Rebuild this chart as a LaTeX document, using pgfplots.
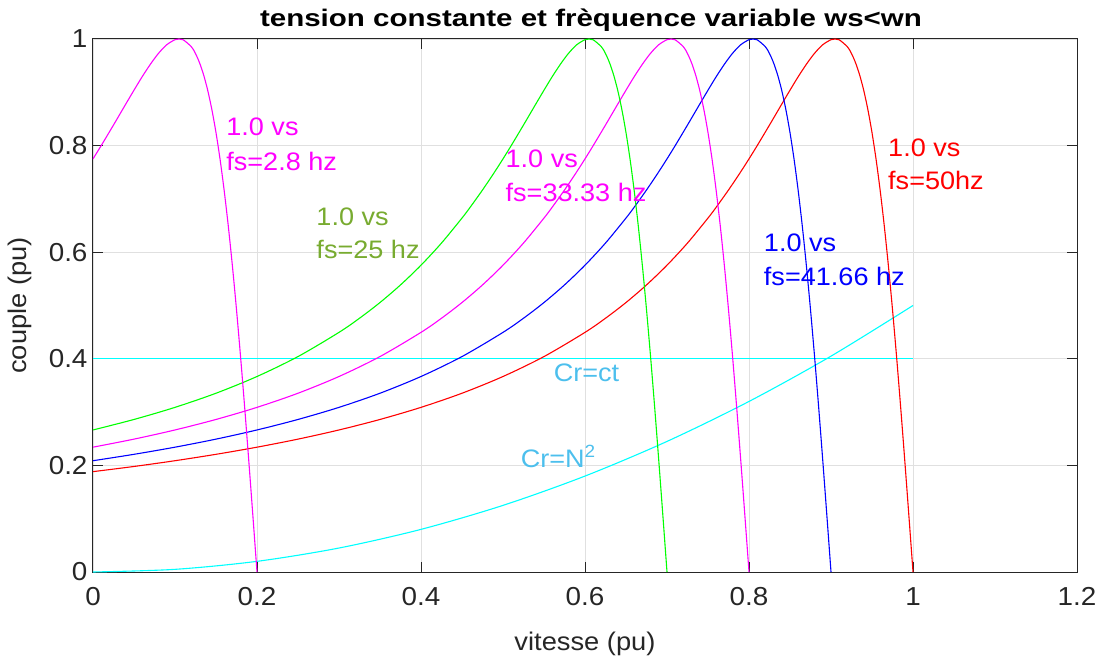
\documentclass[border=0pt]{standalone}
\usepackage{fontspec}
\setmainfont{Liberation Sans}[FakeStretch=1.07]
\newfontfamily\titlefont{Liberation Sans}[FakeStretch=1.23]
\usepackage{pgfplots}
\pgfplotsset{compat=1.18}
\definecolor{txtgreen}{rgb}{0.47,0.67,0.19}
\definecolor{crblue}{rgb}{0.30,0.75,0.93}
\definecolor{axgray}{rgb}{0.15,0.15,0.15}
\definecolor{mmag}{rgb}{1,0,1}
\definecolor{mcyan}{rgb}{0,1,1}
\definecolor{mgreen}{rgb}{0,1,0}
\definecolor{mblue}{rgb}{0,0,1}
\definecolor{mred}{rgb}{1,0,0}
\newcommand{\tfont}{\fontsize{25.3}{30}\selectfont}
\begin{document}
\begin{tikzpicture}
\useasboundingbox (-93pt,-87pt) rectangle (1009pt,572pt);
\begin{axis}[
    scale only axis,
    width=984pt, height=533pt,
    xmin=0, xmax=1.2, ymin=0, ymax=1,
    xtick={0,0.2,...,1.2}, ytick={0,0.2,...,1},
    /pgf/number format/assume math mode=true,
    tick label style={font=\fontsize{26}{30}\selectfont, text=axgray},
    xticklabel style={yshift=-12pt},
    yticklabel style={xshift=-2pt},
    axis line style={axgray, line width=1pt},
    major tick style={axgray, line width=1pt},
    major tick length=10pt,
    tick align=inside,
    grid=major,
    grid style={black!12, line width=0.8pt},
    title={\titlefont\bfseries tension constante et frèquence variable ws<wn},
    title style={font=\fontsize{24}{28}\selectfont, at={(axis description cs:0.5,1)}, anchor=base, yshift=6.3pt, xshift=6pt},
    xlabel={vitesse (pu)},
    xlabel style={font=\fontsize{25.5}{30}\selectfont, text=axgray, at={(axis description cs:0.5,0)}, anchor=base, yshift=-78pt},
    ylabel={couple (pu)},
    ylabel style={font=\fontsize{25.5}{30}\selectfont, text=axgray, at={(axis description cs:-0.0671,0.5)}, anchor=base},
    every axis plot/.append style={line width=1.1pt, no marks, smooth},
]
% Cr = ct
\addplot[mcyan] coordinates {(0,0.4)(1,0.4)};
% Cr = N^2
\addplot[mcyan] coordinates {
(0,0)(0.1,0.005)(0.2,0.02)(0.3,0.045)(0.4,0.08)(0.5,0.125)
(0.6,0.18)(0.7,0.245)(0.8,0.32)(0.9,0.405)(1,0.5)};
% fs = 50 hz
\addplot[mred] coordinates {
(0,0.1883)(0.05,0.1980)(0.1,0.2088)(0.15,0.2208)(0.2,0.2342)(0.25,0.2493)
(0.3,0.2665)(0.35,0.2862)(0.4,0.3089)(0.45,0.3354)(0.5,0.3668)(0.55,0.4042)
(0.6,0.4496)(0.625,0.4761)(0.65,0.5056)(0.675,0.5386)(0.7,0.5756)(0.725,0.6172)
(0.75,0.6641)(0.76,0.6844)(0.775,0.7167)(0.79,0.7511)(0.8,0.7751)(0.81,0.8000)
(0.825,0.8386)(0.83,0.8517)(0.84,0.8780)(0.85,0.9040)(0.86,0.9293)(0.87,0.9527)
(0.88,0.9733)(0.89,0.9893)(0.9,0.9987)(0.905,1.0)(0.91,0.9985)(0.92,0.9854)
(0.925,0.9727)(0.93,0.9551)(0.935,0.9321)(0.94,0.9030)(0.945,0.8672)(0.95,0.8243)
(0.955,0.7738)(0.96,0.7153)(0.965,0.6488)(0.97,0.5743)(0.975,0.4922)(0.98,0.4032)
(0.985,0.3081)(0.99,0.2082)(0.995,0.1050)(1.0,0)};
% fs = 41.66 hz
\addplot[mblue] coordinates {
(0,0.2088)(0.05,0.2208)(0.1,0.2342)(0.15,0.2493)(0.2,0.2665)(0.25,0.2862)
(0.3,0.3089)(0.35,0.3354)(0.4,0.3668)(0.45,0.4042)(0.5,0.4496)(0.525,0.4761)
(0.55,0.5056)(0.575,0.5386)(0.6,0.5756)(0.625,0.6172)(0.65,0.6641)(0.66,0.6844)
(0.675,0.7167)(0.69,0.7511)(0.7,0.7751)(0.71,0.8000)(0.725,0.8386)(0.73,0.8517)
(0.74,0.8780)(0.75,0.9040)(0.76,0.9293)(0.77,0.9527)(0.78,0.9733)(0.79,0.9893)
(0.8,0.9987)(0.805,1.0)(0.81,0.9985)(0.82,0.9854)(0.825,0.9727)(0.83,0.9551)
(0.835,0.9321)(0.84,0.9030)(0.845,0.8672)(0.85,0.8243)(0.855,0.7738)(0.86,0.7153)
(0.865,0.6488)(0.87,0.5743)(0.875,0.4922)(0.88,0.4032)(0.885,0.3081)(0.89,0.2082)
(0.895,0.1050)(0.9,0)};
% fs = 33.33 hz
\addplot[mmag] coordinates {
(0,0.2342)(0.05,0.2493)(0.1,0.2665)(0.15,0.2862)(0.2,0.3089)(0.25,0.3354)
(0.3,0.3668)(0.35,0.4042)(0.4,0.4496)(0.425,0.4761)(0.45,0.5056)(0.475,0.5386)
(0.5,0.5756)(0.525,0.6172)(0.55,0.6641)(0.56,0.6844)(0.575,0.7167)(0.59,0.7511)
(0.6,0.7751)(0.61,0.8000)(0.625,0.8386)(0.63,0.8517)(0.64,0.8780)(0.65,0.9040)
(0.66,0.9293)(0.67,0.9527)(0.68,0.9733)(0.69,0.9893)(0.7,0.9987)(0.705,1.0)
(0.71,0.9985)(0.72,0.9854)(0.725,0.9727)(0.73,0.9551)(0.735,0.9321)(0.74,0.9030)
(0.745,0.8672)(0.75,0.8243)(0.755,0.7738)(0.76,0.7153)(0.765,0.6488)(0.77,0.5743)
(0.775,0.4922)(0.78,0.4032)(0.785,0.3081)(0.79,0.2082)(0.795,0.1050)(0.8,0)};
% fs = 25 hz
\addplot[mgreen] coordinates {
(0,0.2665)(0.05,0.2862)(0.1,0.3089)(0.15,0.3354)(0.2,0.3668)(0.25,0.4042)
(0.3,0.4496)(0.325,0.4761)(0.35,0.5056)(0.375,0.5386)(0.4,0.5756)(0.425,0.6172)
(0.45,0.6641)(0.46,0.6844)(0.475,0.7167)(0.49,0.7511)(0.5,0.7751)(0.51,0.8000)
(0.525,0.8386)(0.53,0.8517)(0.54,0.8780)(0.55,0.9040)(0.56,0.9293)(0.57,0.9527)
(0.58,0.9733)(0.59,0.9893)(0.6,0.9987)(0.605,1.0)(0.61,0.9985)(0.62,0.9854)
(0.625,0.9727)(0.63,0.9551)(0.635,0.9321)(0.64,0.9030)(0.645,0.8672)(0.65,0.8243)
(0.655,0.7738)(0.66,0.7153)(0.665,0.6488)(0.67,0.5743)(0.675,0.4922)(0.68,0.4032)
(0.685,0.3081)(0.69,0.2082)(0.695,0.1050)(0.7,0)};
% fs = 2.8 hz
\addplot[mmag] coordinates {
(0,0.7751)(0.01,0.8000)(0.025,0.8386)(0.03,0.8517)(0.04,0.8780)(0.05,0.9040)
(0.06,0.9293)(0.07,0.9527)(0.08,0.9733)(0.09,0.9893)(0.1,0.9987)(0.105,1.0)
(0.11,0.9985)(0.12,0.9854)(0.125,0.9727)(0.13,0.9551)(0.135,0.9321)(0.14,0.9030)
(0.145,0.8672)(0.15,0.8243)(0.155,0.7738)(0.16,0.7153)(0.165,0.6488)(0.17,0.5743)
(0.175,0.4922)(0.18,0.4032)(0.185,0.3081)(0.19,0.2082)(0.195,0.1050)(0.2,0)};

\tikzset{lbl/.style={font=\tfont, anchor=base west, inner sep=0pt}}
\node[lbl, text=mmag] at (axis cs:0.1624,0.819) {1.0 vs};
\node[lbl, text=mmag] at (axis cs:0.1624,0.754) {fs=2.8 hz};
\node[lbl, text=txtgreen] at (axis cs:0.2723,0.651) {1.0 vs};
\node[lbl, text=txtgreen] at (axis cs:0.2723,0.589) {fs=25 hz};
\node[lbl, text=mmag] at (axis cs:0.503,0.759) {1.0 vs};
\node[lbl, text=mmag] at (axis cs:0.503,0.695) {fs=33.33 hz};
\node[lbl, text=mblue] at (axis cs:0.818,0.602) {1.0 vs};
\node[lbl, text=mblue] at (axis cs:0.818,0.538) {fs=41.66 hz};
\node[lbl, text=mred] at (axis cs:0.9695,0.780) {1.0 vs};
\node[lbl, text=mred] at (axis cs:0.9695,0.717) {fs=50hz};
\node[lbl, text=crblue] at (axis cs:0.5617,0.358) {Cr=ct};
\node[lbl, text=crblue] at (axis cs:0.5214,0.197) {Cr=N\textsuperscript{2}};
\end{axis}
\end{tikzpicture}
\end{document}
